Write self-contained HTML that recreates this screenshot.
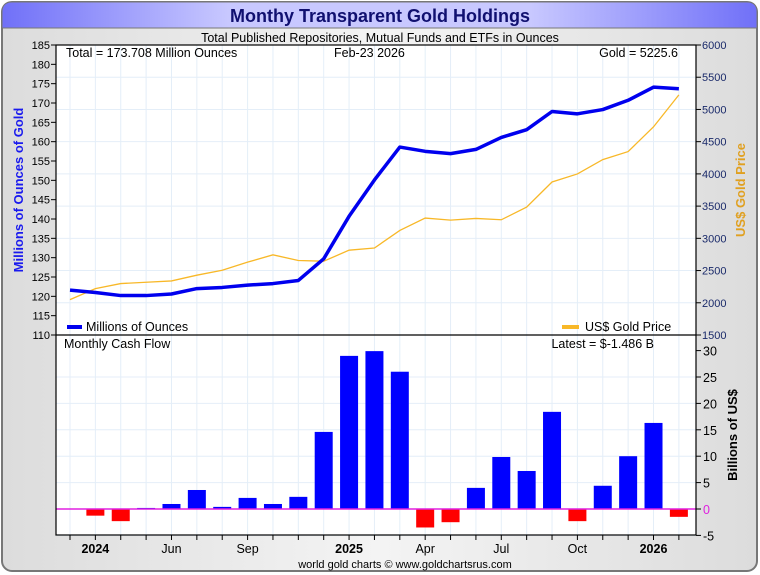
<!DOCTYPE html>
<html><head><meta charset="utf-8"><style>
body{margin:0;background:#fff;}
svg{display:block;font-family:"Liberation Sans",sans-serif;}
</style></head><body>
<svg id="c" width="760" height="575" viewBox="0 0 760 575">
<defs>
<linearGradient id="bg" x1="0" x2="1" y1="0" y2="0"><stop offset="0" stop-color="#dcdcdc"/><stop offset="0.5" stop-color="#f4f4f4"/><stop offset="1" stop-color="#dcdcdc"/></linearGradient>
<linearGradient id="tb" x1="0" x2="1" y1="0" y2="0"><stop offset="0" stop-color="#7070f8"/><stop offset="0.3" stop-color="#c8c8ff"/><stop offset="0.7" stop-color="#c8c8ff"/><stop offset="1" stop-color="#7070f8"/></linearGradient>
</defs>
<rect x="2" y="2" width="755" height="569" rx="10" fill="url(#bg)" stroke="#777" stroke-width="2"/>
<path d="M12,2 H747 Q757,2 757,12 V28 H2 V12 Q2,2 12,2 Z" fill="url(#tb)" stroke="#777" stroke-width="1"/>
<text x="380" y="22" text-anchor="middle" font-size="18" font-weight="bold" fill="#101070">Monthy Transparent Gold Holdings</text>
<text x="380" y="42" text-anchor="middle" font-size="12.5" fill="#000">Total Published Repositories, Mutual Funds and ETFs in Ounces</text>
<rect x="56" y="45" width="640" height="490" fill="#fff"/>
<g id="grid"></g>
<g id="marks"></g>
<rect x="56" y="45" width="640" height="490" fill="none" stroke="#000" stroke-width="1.2"/>
<line x1="56" y1="335" x2="696" y2="335" stroke="#000" stroke-width="1.2"/>
<g id="axes"></g>
<text x="66" y="57" font-size="12.5">Total = 173.708 Million Ounces</text>
<text x="334" y="57" font-size="12.5">Feb-23  2026</text>
<text x="678" y="57" font-size="12.5" text-anchor="end">Gold = 5225.6</text>
<line x1="67" y1="327" x2="82" y2="327" stroke="#0000ee" stroke-width="4"/>
<text x="86" y="331" font-size="12.5">Millions of Ounces</text>
<line x1="562" y1="327" x2="579" y2="327" stroke="#f8b828" stroke-width="4"/>
<text x="585" y="331" font-size="12.5">US$ Gold Price</text>
<text x="64" y="348" font-size="12.5">Monthly Cash Flow</text>
<text x="654" y="348" font-size="12.5" text-anchor="end">Latest = $-1.486 B</text>
<text transform="translate(23,190) rotate(-90)" text-anchor="middle" font-size="13" font-weight="bold" fill="#1a1aee">Millions of Ounces of Gold</text>
<text transform="translate(745,190) rotate(-90)" text-anchor="middle" font-size="13" font-weight="bold" fill="#e0a020">US$ Gold Price</text>
<text transform="translate(737,435) rotate(-90)" text-anchor="middle" font-size="13" font-weight="bold" fill="#000">Billions of US$</text>
<text x="405" y="568" text-anchor="middle" font-size="11">world gold charts © www.goldchartsrus.com</text>
</svg>
<script>
const months = ["Feb24","Mar24","Apr24","May24","Jun24","Jul24","Aug24","Sep24","Oct24","Nov24","Dec24","Jan25","Feb25","Mar25","Apr25","May25","Jun25","Jul25","Aug25","Sep25","Oct25","Nov25","Dec25","Jan26","Feb26"];
const holdings = [121.6,121.0,120.2,120.2,120.6,122.0,122.3,122.9,123.3,124.1,129.7,140.7,150.1,158.6,157.5,156.9,158.0,161.1,163.1,167.8,167.2,168.3,170.7,174.1,173.7];
const goldPrice = [2049,2220,2298,2319,2339,2428,2505,2630,2744,2656,2645,2816,2850,3122,3314,3283,3309,3288,3485,3874,3999,4222,4346,4730,5226];
const cashFlow = [null,-1.26,-2.3,0.2,0.95,3.6,0.4,2.1,0.95,2.3,14.6,29.0,29.9,26.0,-3.5,-2.5,4.0,9.85,7.2,18.4,-2.3,4.4,10.0,16.3,-1.486];
const leftTicks = [110,115,120,125,130,135,140,145,150,155,160,165,170,175,180,185];
const rightTicks = [1500,2000,2500,3000,3500,4000,4500,5000,5500,6000];
const cashTicks = [-5,0,5,10,15,20,25,30];
const xLabels = [[1,"2024",true],[4,"Jun",false],[7,"Sep",false],[11,"2025",true],[14,"Apr",false],[17,"Jul",false],[20,"Oct",false],[23,"2026",true]];

const NS="http://www.w3.org/2000/svg";
const x = i => 70 + i*25.37;
const yL = v => 45 + (185-v)*(290/75);
const yR = v => 45 + (6000-v)*(290/4500);
const yC = v => 509 - v*5.28;
function mk(tag, attrs, parent){const e=document.createElementNS(NS,tag);for(const k in attrs)e.setAttribute(k,attrs[k]);parent.appendChild(e);return e;}
const grid=document.getElementById('grid'), marks=document.getElementById('marks'), axes=document.getElementById('axes');
const gc="#e4eef8";
months.forEach((m,i)=>{
  let l=mk('line',{x1:x(i),x2:x(i),y1:45,y2:535,stroke:gc,'stroke-width':1},grid);
  
  
  let t=mk('line',{x1:x(i),x2:x(i),y1:535,y2:540,stroke:'#000','stroke-width':1},axes);
  
  
});
rightTicks.forEach(v=>{
  let l=mk('line',{x1:56,x2:696,y1:yR(v),y2:yR(v),stroke:gc,'stroke-width':1},grid);
  
  
  let t=mk('line',{x1:696,x2:701,y1:yR(v),y2:yR(v),stroke:'#000'},axes);
  
  
  let tx=mk('text',{x:702,y:yR(v)+4,'font-size':11,fill:'#1a2a6a'},axes);tx.textContent=v;
  
  
});
cashTicks.forEach(v=>{
  if(v<30){let l=mk('line',{x1:56,x2:696,y1:yC(v),y2:yC(v),stroke:gc,'stroke-width':1},grid);
  
  }
  let t=mk('line',{x1:696,x2:701,y1:yC(v),y2:yC(v),stroke:'#000'},axes);
  
  
  let tx=mk('text',{x:703,y:yC(v)+5,'font-size':12.5,fill:v===0?'#e020e0':'#000'},axes);tx.textContent=v;
  
  
});
leftTicks.forEach(v=>{
  let t=mk('line',{x1:51,x2:56,y1:yL(v),y2:yL(v),stroke:'#000'},axes);
  
  
  let tx=mk('text',{x:50,y:yL(v)+4,'font-size':11,'text-anchor':'end'},axes);tx.textContent=v;
  
  
});
xLabels.forEach(([i,s,b])=>{
  let tx=mk('text',{x:x(i),y:553,'font-size':12.5,'text-anchor':'middle','font-weight':b?'bold':'normal'},axes);tx.textContent=s;
  
  
});
cashFlow.forEach((v,i)=>{
  if(v===null)return;
  const y0=yC(0), y1=yC(v);
  let r=mk('rect',{x:x(i)-9,width:18,y:Math.min(y0,y1),height:Math.abs(y1-y0),fill:v<0?'#ff0000':'#0000ff'},marks);
  
  
});
let z=mk('line',{x1:56,x2:696,y1:yC(0),y2:yC(0),stroke:'#e020e0','stroke-width':1.5},marks);


let gp=mk('polyline',{points:goldPrice.map((v,i)=>x(i)+','+yR(v)).join(' '),fill:'none',stroke:'#f8b828','stroke-width':1.3},marks);


let hl=mk('polyline',{points:holdings.map((v,i)=>x(i)+','+yL(v)).join(' '),fill:'none',stroke:'#0000ee','stroke-width':3.5,'stroke-linejoin':'round'},marks);


</script>
</body></html>
